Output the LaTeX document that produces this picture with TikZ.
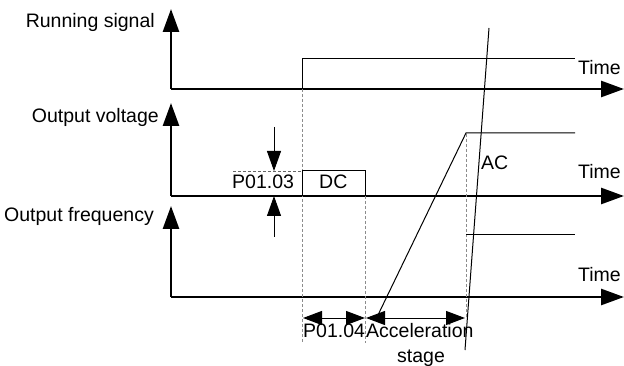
\documentclass[tikz,border=0pt]{standalone}
\usepackage{fontspec}
\setmainfont{Liberation Sans}
\usetikzlibrary{arrows.meta}
\begin{document}
\begin{tikzpicture}[x=1pt,y=-1pt,
  axis/.style={line width=2.7pt,-{Triangle[length=23pt,width=16pt]}},
  thin/.style={line width=1pt},
  dimarrow/.style={line width=1pt,{Triangle[length=19pt,width=14pt]}-{Triangle[length=19pt,width=14pt]}},
  onearrow/.style={line width=1pt,-{Triangle[length=20pt,width=14pt]}},
  guide/.style={line width=0.8pt,draw=black!45,dash pattern=on 3pt off 2pt},
  lbl/.style={inner sep=0pt,font=\fontsize{19.5}{22}\selectfont}]
\useasboundingbox (0,0) rectangle (624,366);
% axes
\coordinate (o1) at (171,89);  \coordinate (t1) at (171,9);  \coordinate (r1) at (624,89);
\coordinate (o2) at (171,196); \coordinate (t2) at (171,103); \coordinate (r2) at (624,196);
\coordinate (o3) at (171,297); \coordinate (t3) at (171,206); \coordinate (r3) at (624,297);
\draw[axis] (o1) -- (t1);
\draw[axis] (o1) -- (r1);
\draw[axis] (o2) -- (t2);
\draw[axis] (o2) -- (r2);
\draw[axis] (o3) -- (t3);
\draw[axis] (o3) -- (r3);
% labels
\node[lbl,anchor=base east] (rs) at (155,28) {Running signal};
\node[lbl,anchor=base east] (ov) at (159,123) {Output voltage};
\node[lbl,anchor=base east] (of) at (154,222) {Output frequency};
\node[lbl,anchor=base west] (tm1) at (578,75) {Time};
\node[lbl,anchor=base west] (tm2) at (578,179) {Time};
\node[lbl,anchor=base west] (tm3) at (578,281) {Time};
% guide dashed lines
\coordinate (g1a) at (302,89);  \coordinate (g1b) at (302,343);
\coordinate (g2a) at (365,196); \coordinate (g2b) at (365,343);
\coordinate (g3a) at (466,134); \coordinate (g3b) at (466,318);
\draw[guide] (g1a) -- (g1b);
\draw[guide] (g2a) -- (g2b);
\draw[guide] (g3a) -- (g3b);
\coordinate (hd1) at (233,171); \coordinate (hd2) at (302,171);
\draw[guide,draw=black!60] (hd1) -- (hd2);
% running signal step
\coordinate (s0) at (302,89); \coordinate (s1) at (302,59); \coordinate (s2) at (575,59);
\draw[thin] (s0) -- (s1) -- (s2);
% DC box
\coordinate (d0) at (302,196); \coordinate (d1) at (302,171); \coordinate (d2) at (365,171); \coordinate (d3) at (365,196);
\draw[thin] (d0) -- (d1) -- (d2) -- (d3);
% P01.03 arrows
\coordinate (pa1) at (274,127); \coordinate (pa2) at (274,171);
\coordinate (pb1) at (274,237); \coordinate (pb2) at (274,196);
\draw[onearrow] (pa1) -- (pa2);
\draw[onearrow] (pb1) -- (pb2);
% voltage ramp
\coordinate (v0) at (378,315); \coordinate (v1) at (466,133); \coordinate (v2) at (575,133);
\draw[thin] (v0) -- (v1) -- (v2);
% frequency level
\coordinate (f0) at (466,235); \coordinate (f1) at (575,235);
\draw[thin] (f0) -- (f1);
% break line
\coordinate (b0) at (489,28); \coordinate (b1) at (465,350);
\draw[thin] (b0) -- (b1);
% dimension arrows
\coordinate (m0) at (303,318); \coordinate (m1) at (365,318); \coordinate (m2) at (366,318); \coordinate (m3) at (465,318);
\draw[dimarrow] (m0) -- (m1);
\draw[dimarrow] (m2) -- (m3);
% texts
\node[lbl,anchor=base west] (p0103) at (232,189) {P01.03};
\node[lbl,anchor=base west] (dc) at (319,189) {DC};
\node[lbl,anchor=base west] (ac) at (481,170) {AC};
\node[lbl,anchor=base west] (p0104) at (303,337) {P01.04};
\node[lbl,anchor=base west] (acc) at (366,337) {Acceleration};
\node[lbl,anchor=base west] (stg) at (397,362) {stage};
\end{tikzpicture}
\end{document}
